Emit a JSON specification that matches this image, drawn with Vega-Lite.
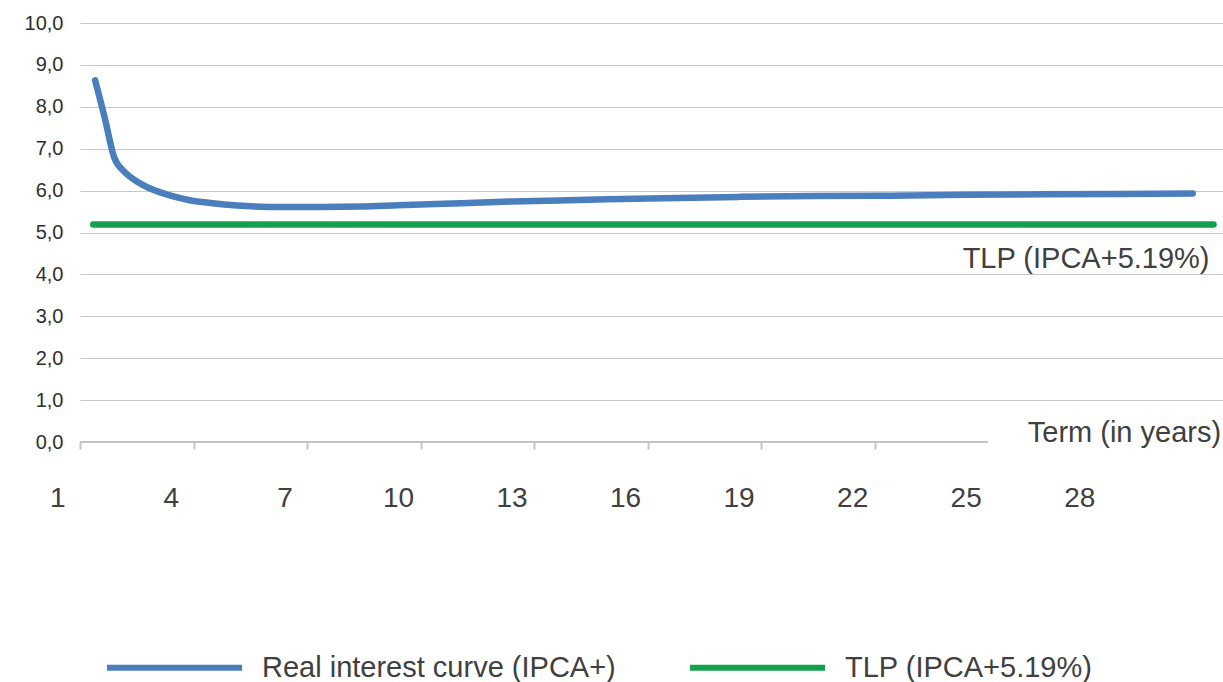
{
  "$schema": "https://vega.github.io/schema/vega-lite/v6.json",
  "autosize": {"type": "none"},
  "width": 1143,
  "height": 419,
  "padding": {"left": 80, "top": 23, "right": 0, "bottom": 240},
  "background": "#ffffff",
  "config": {
    "font": "Liberation Sans",
    "view": {"stroke": null}
  },
  "datasets": {
    "curves": [
      {"series": "Real interest curve (IPCA+)", "term": 1, "rate": 8.63},
      {"series": "Real interest curve (IPCA+)", "term": 1.25, "rate": 7.75},
      {"series": "Real interest curve (IPCA+)", "term": 1.5, "rate": 6.8},
      {"series": "Real interest curve (IPCA+)", "term": 1.75, "rate": 6.47},
      {"series": "Real interest curve (IPCA+)", "term": 2, "rate": 6.28},
      {"series": "Real interest curve (IPCA+)", "term": 2.5, "rate": 6.03},
      {"series": "Real interest curve (IPCA+)", "term": 3, "rate": 5.88},
      {"series": "Real interest curve (IPCA+)", "term": 3.5, "rate": 5.77},
      {"series": "Real interest curve (IPCA+)", "term": 4, "rate": 5.71},
      {"series": "Real interest curve (IPCA+)", "term": 4.5, "rate": 5.66},
      {"series": "Real interest curve (IPCA+)", "term": 5, "rate": 5.63},
      {"series": "Real interest curve (IPCA+)", "term": 6, "rate": 5.61},
      {"series": "Real interest curve (IPCA+)", "term": 7, "rate": 5.61},
      {"series": "Real interest curve (IPCA+)", "term": 8, "rate": 5.62},
      {"series": "Real interest curve (IPCA+)", "term": 9, "rate": 5.65},
      {"series": "Real interest curve (IPCA+)", "term": 10, "rate": 5.68},
      {"series": "Real interest curve (IPCA+)", "term": 12, "rate": 5.74},
      {"series": "Real interest curve (IPCA+)", "term": 14, "rate": 5.78},
      {"series": "Real interest curve (IPCA+)", "term": 16, "rate": 5.82},
      {"series": "Real interest curve (IPCA+)", "term": 18, "rate": 5.85},
      {"series": "Real interest curve (IPCA+)", "term": 20, "rate": 5.87},
      {"series": "Real interest curve (IPCA+)", "term": 22, "rate": 5.88},
      {"series": "Real interest curve (IPCA+)", "term": 24, "rate": 5.9},
      {"series": "Real interest curve (IPCA+)", "term": 26, "rate": 5.91},
      {"series": "Real interest curve (IPCA+)", "term": 28, "rate": 5.92},
      {"series": "Real interest curve (IPCA+)", "term": 30, "rate": 5.93},
      {"series": "TLP (IPCA+5.19%)", "term": 0.95, "rate": 5.19},
      {"series": "TLP (IPCA+5.19%)", "term": 30.55, "rate": 5.19}
    ]
  },
  "layer": [
    {
      "data": {"name": "curves"},
      "mark": {"type": "line", "strokeWidth": 6.5, "strokeCap": "round", "strokeJoin": "round", "interpolate": "monotone"},
      "encoding": {
        "x": {
          "field": "term",
          "type": "quantitative",
          "scale": {"domain": [0.6, 30.8], "nice": false, "zero": false},
          "axis": {
            "title": null,
            "domain": false,
            "grid": false,
            "values": [1, 4, 7, 10, 13, 16, 19, 22, 25, 28],
            "tickSize": 7,
            "tickWidth": 2,
            "tickColor": "#c4c4c4",
            "tickOpacity": {"condition": {"test": "datum.value > 23", "value": 0}, "value": 1},
            "tickOffset": -15.1,
            "labelOffset": -22.7,
            "labelPadding": 35,
            "labelFontSize": 28,
            "labelColor": "#404040",
            "labelBound": false,
            "labelFlush": false,
            "labelOverlap": false
          }
        },
        "y": {
          "field": "rate",
          "type": "quantitative",
          "scale": {"domain": [0, 10], "nice": false},
          "axis": {
            "title": null,
            "domain": false,
            "ticks": false,
            "values": [0, 1, 2, 3, 4, 5, 6, 7, 8, 9, 10],
            "labelExpr": "replace(format(datum.value, '.1f'), '.', ',')",
            "labelFontSize": 20,
            "labelColor": "#2e2e2e",
            "labelPadding": 17,
            "gridColor": "#c8c8c8",
            "gridWidth": 1.2,
            "gridOpacity": {"condition": {"test": "datum.value === 0", "value": 0}, "value": 1}
          }
        },
        "color": {
          "field": "series",
          "type": "nominal",
          "scale": {
            "domain": ["Real interest curve (IPCA+)", "TLP (IPCA+5.19%)"],
            "range": ["#4b7ebd", "#13a24b"]
          },
          "legend": {
            "title": null,
            "orient": "none",
            "direction": "horizontal",
            "legendX": 24,
            "legendY": 574,
            "symbolType": "stroke",
            "symbolSize": 18225,
            "symbolStrokeWidth": 6,
            "labelFontSize": 29,
            "labelColor": "#404040",
            "labelOffset": 17,
            "columnPadding": 62,
            "padding": 0,
            "labelLimit": 600,
            "encode": {
              "symbols": {
                "update": {
                  "stroke": {"signal": "datum.value === 'TLP (IPCA+5.19%)' ? '#129a45' : '#1a6dbb'"}
                }
              }
            }
          }
        }
      }
    },
    {
      "data": {"name": "curves"},
      "transform": [
        {"filter": "datum.series === 'TLP (IPCA+5.19%)' && datum.term > 30"}
      ],
      "mark": {"type": "text", "align": "right", "baseline": "middle", "dx": -4, "dy": 34, "fontSize": 29, "color": "#404040"},
      "encoding": {
        "x": {"field": "term", "type": "quantitative"},
        "y": {"field": "rate", "type": "quantitative"},
        "text": {"field": "series"}
      }
    },
    {
      "data": {"values": [{"label": "Term (in years)"}]},
      "mark": {"type": "text", "align": "right", "baseline": "alphabetic", "fontSize": 29, "color": "#404040"},
      "encoding": {
        "x": {"datum": 30.75, "type": "quantitative"},
        "y": {"datum": 0, "type": "quantitative"},
        "text": {"field": "label"}
      }
    },
    {
      "data": {"values": [{"label": "baseline"}]},
      "mark": {"type": "rule", "color": "#c4c4c4", "strokeWidth": 2},
      "encoding": {
        "x": {"datum": 0.6, "type": "quantitative"},
        "x2": {"datum": 24.59},
        "y": {"datum": 0, "type": "quantitative"}
      }
    }
  ]
}
